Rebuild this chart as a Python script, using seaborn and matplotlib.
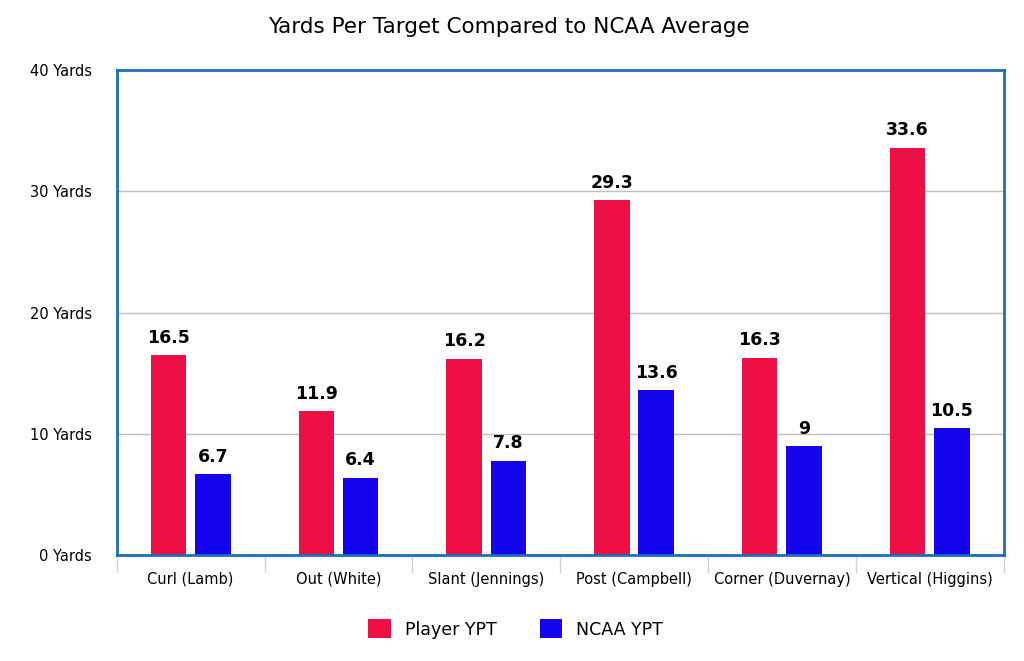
import matplotlib
matplotlib.use("Agg")
import matplotlib.pyplot as plt
import seaborn as sns
import pandas as pd

categories = ["Curl (Lamb)", "Out (White)", "Slant (Jennings)", "Post (Campbell)", "Corner (Duvernay)", "Vertical (Higgins)"]
player_ypt = [16.5, 11.9, 16.2, 29.3, 16.3, 33.6]
ncaa_ypt = [6.7, 6.4, 7.8, 13.6, 9, 10.5]
labels_series = ["Player YPT", "NCAA YPT"]

df = pd.DataFrame({
    "cat": categories * 2,
    "val": player_ypt + ncaa_ypt,
    "series": [labels_series[0]] * 6 + [labels_series[1]] * 6,
})

sns.set_style("white")
plt.rcParams['font.family'] = ['DejaVu Sans']
plt.rcParams['text.color'] = 'black'
plt.rcParams['xtick.color'] = 'black'
plt.rcParams['ytick.color'] = 'black'
fig = plt.figure(figsize=(10.24, 6.61), dpi=100)
ax = fig.add_axes([0.114, 0.160, 0.866, 0.734])
sns.barplot(data=df, x="cat", y="val", hue="series", palette=["#EE1045", "#1405EE"],
            saturation=1, linewidth=0, width=0.6, gap=0.2, ax=ax, legend=True)
ax.set_ylim(0, 40)
ax.set_xlim(-0.5, 5.5)
ax.set_yticks([0, 10, 20, 30, 40])
ax.set_yticklabels([f"{v} Yards" for v in [0, 10, 20, 30, 40]], fontsize=10.5)
ax.yaxis.grid(True, color="#c0c0c0", linewidth=1)
ax.set_axisbelow(True)
ax.set_xlabel(""); ax.set_ylabel("")
ax.set_xticks(range(6))
ax.set_xticklabels(categories, fontsize=10.5)
ax.tick_params(axis="x", length=0, pad=12)
ax.tick_params(axis="y", length=0, pad=18)
for b in [i + 0.5 for i in range(-1, 6)]:
    ax.plot([b, b], [0, -0.035], transform=ax.get_xaxis_transform(), color="#c8d4e0", lw=1, clip_on=False)
for s in ax.spines.values():
    s.set_color("#1a6fc0"); s.set_linewidth(2)
for c in ax.containers:
    ax.bar_label(c, labels=[f"{v:g}" for v in c.datavalues], padding=6, fontsize=12.5, fontweight="bold", color="black")
ax.legend(loc="upper center", bbox_to_anchor=(0.45, -0.1), ncol=2, frameon=False, fontsize=12.5,
          handlelength=1.3, handleheight=1.3, columnspacing=2.5)
fig.suptitle("Yards Per Target Compared to NCAA Average", x=0.497, y=0.975, fontsize=15.5)
fig.savefig("out.png", dpi=100)
